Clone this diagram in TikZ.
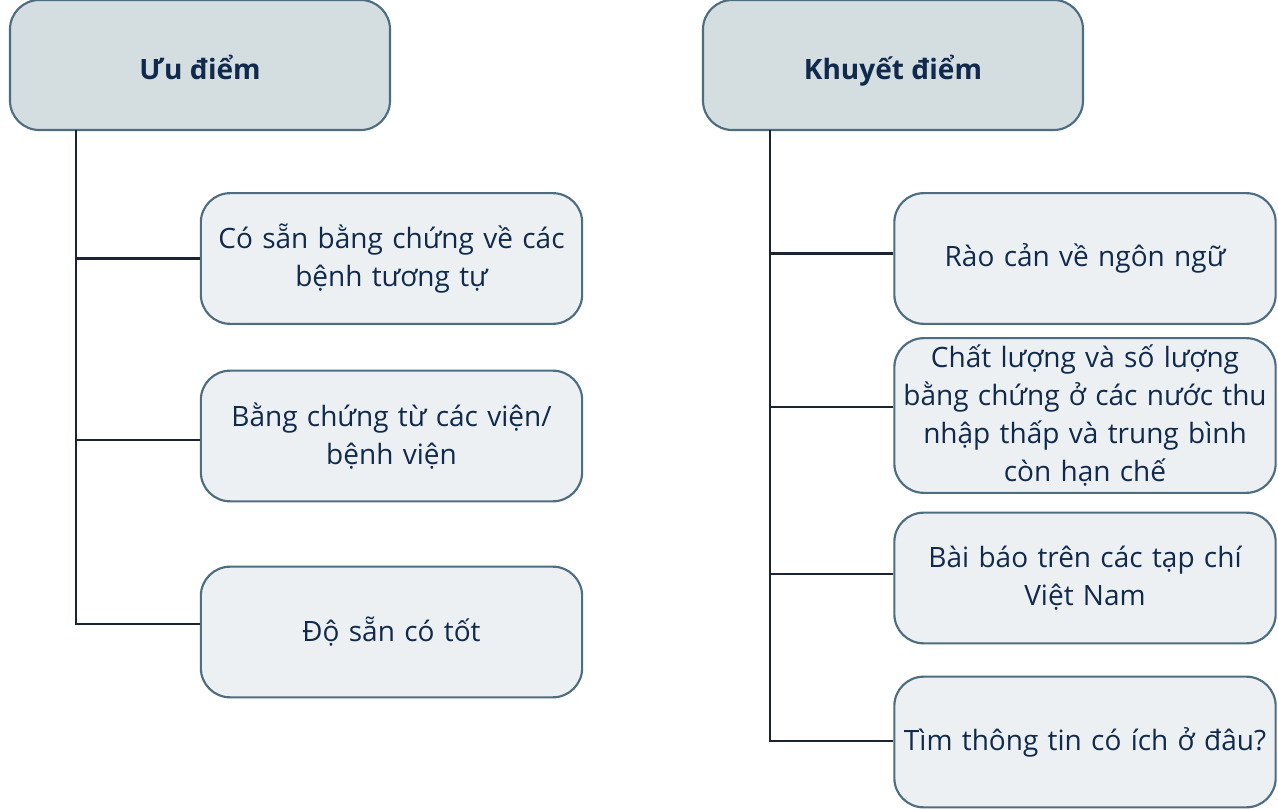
\documentclass[tikz,border=0pt]{standalone}
\usepackage{fontspec}
\setmainfont{Open Sans}
\definecolor{hdrfill}{HTML}{D4DEE1}
\definecolor{boxfill}{HTML}{EDF0F3}
\definecolor{boxline}{HTML}{4D6D80}
\definecolor{txt}{HTML}{0F2A4D}
\definecolor{conn}{HTML}{1A2433}
\begin{document}
\begin{tikzpicture}[x=0.75pt,y=-0.75pt,
  hdr/.style={draw=boxline,fill=hdrfill,line width=1.6pt,rounded corners=22pt,
    minimum width=285pt,minimum height=97.5pt,inner sep=0pt,
    text height=24pt,text depth=1.5pt,
    font=\bfseries\fontsize{21}{28.5}\selectfont,text=txt,align=center},
  item/.style={draw=boxline,fill=boxfill,line width=1.6pt,rounded corners=22pt,
    minimum width=286pt,minimum height=98pt,inner sep=0pt,text width=282pt,
    font=\fontsize{21}{28.5}\selectfont,text=txt,align=center},
  link/.style={draw=conn,line width=2.2pt}]
\useasboundingbox (0,0) rectangle (1278,809);
\fill[white] (0,0) rectangle (1278,809);
% headers
\node[hdr] (hL) at (200,65) {Ưu điểm};
\node[hdr] (hR) at (893,65) {Khuyết điểm};
% left items
\node[item] (l1) at (391.5,258.5) {Có sẵn bằng chứng về các\\bệnh tương tự};
\node[item] (l2) at (391.5,436) {Bằng chứng từ các viện/\\bệnh viện};
\node[item] (l3) at (391.5,632) {Độ sẵn có tốt};
% right items
\node[item] (r1) at (1085,258.5) {Rào cản về ngôn ngữ};
\node[item,minimum height=116pt] (r2) at (1085,415.5) {Chất lượng và số lượng\\bằng chứng ở các nước thu\\nhập thấp và trung bình\\còn hạn chế};
\node[item] (r3) at (1085,578) {Bài báo trên các tạp chí\\Việt Nam};
\node[item] (r4) at (1085,742) {Tìm thông tin có ích ở đâu?};
% trunks
\coordinate (tL) at (76,130);
\coordinate (tR) at (770,130);
\draw[link] (tL) |- ([yshift=6pt]l3.west);
\draw[link] (tL |- l1.west) -- (l1.west);
\draw[link] ([yshift=-3pt]tL |- l2.west) -- ([yshift=-3pt]l2.west);
\draw[link] (tR) |- ([yshift=0.75pt]r4.west);
\draw[link] ([yshift=3.4pt]tR |- r1.west) -- ([yshift=3.4pt]r1.west);
\draw[link] ([yshift=6.4pt]tR |- r2.west) -- ([yshift=6.4pt]r2.west);
\draw[link] ([yshift=3pt]tR |- r3.west) -- ([yshift=3pt]r3.west);
\end{tikzpicture}
\end{document}
